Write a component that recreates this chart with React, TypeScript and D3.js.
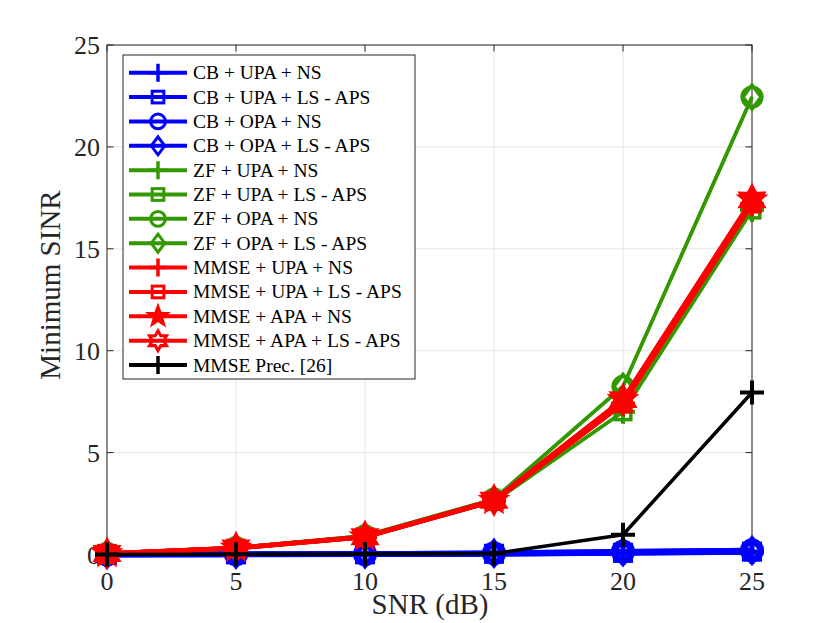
import React from "react";
import * as d3 from "d3";

const snr = [0, 5, 10, 15, 20, 25];
const xTicks = [0, 5, 10, 15, 20, 25];
const yTicks = [0, 5, 10, 15, 20, 25];

const cbUpaNs = [0.0, 0.005, 0.01, 0.03, 0.07, 0.12];
const cbUpaLs = [0.0, 0.006, 0.012, 0.035, 0.08, 0.14];
const cbOpaNs = [0.002, 0.01, 0.02, 0.06, 0.14, 0.2];
const cbOpaLs = [0.002, 0.01, 0.02, 0.06, 0.14, 0.2];
const zfUpaNs = [0.05, 0.3, 0.85, 2.6, 7.0, 16.9];
const zfUpaLs = [0.05, 0.3, 0.85, 2.6, 7.0, 16.9];
const zfOpaNs = [0.06, 0.34, 0.92, 2.72, 8.25, 22.45];
const zfOpaLs = [0.06, 0.34, 0.92, 2.72, 8.25, 22.45];
const mmseUpaNs = [0.05, 0.31, 0.86, 2.63, 7.4, 17.2];
const mmseUpaLs = [0.05, 0.31, 0.86, 2.63, 7.4, 17.2];
const mmseApaNs = [0.05, 0.32, 0.87, 2.66, 7.6, 17.4];
const mmseApaLs = [0.05, 0.32, 0.87, 2.66, 7.6, 17.4];
const mmsePrec = [0.0, 0.01, 0.02, 0.05, 0.97, 7.95];

const labels = [
  "CB + UPA + NS",
  "CB + UPA + LS - APS",
  "CB + OPA + NS",
  "CB + OPA + LS - APS",
  "ZF + UPA + NS",
  "ZF + UPA + LS - APS",
  "ZF + OPA + NS",
  "ZF + OPA + LS - APS",
  "MMSE + UPA + NS",
  "MMSE + UPA + LS - APS",
  "MMSE + APA + NS",
  "MMSE + APA + LS - APS",
  "MMSE Prec. [26]",
];

const BLUE = "#0000ff";
const GREEN = "#339900";
const RED = "#ff0000";
const BLACK = "#000000";

type Marker = "plus" | "square" | "circle" | "diamond" | "pentagram" | "hexagram";

const series: { values: number[]; color: string; marker: Marker; lw: number }[] = [
  { values: cbUpaNs, color: BLUE, marker: "plus", lw: 5.5 },
  { values: cbUpaLs, color: BLUE, marker: "square", lw: 5.5 },
  { values: cbOpaNs, color: BLUE, marker: "circle", lw: 5.5 },
  { values: cbOpaLs, color: BLUE, marker: "diamond", lw: 5.5 },
  { values: zfUpaNs, color: GREEN, marker: "plus", lw: 3.5 },
  { values: zfUpaLs, color: GREEN, marker: "square", lw: 3.5 },
  { values: zfOpaNs, color: GREEN, marker: "circle", lw: 3.5 },
  { values: zfOpaLs, color: GREEN, marker: "diamond", lw: 3.5 },
  { values: mmseUpaNs, color: RED, marker: "plus", lw: 4.5 },
  { values: mmseUpaLs, color: RED, marker: "square", lw: 4.5 },
  { values: mmseApaNs, color: RED, marker: "pentagram", lw: 4.5 },
  { values: mmseApaLs, color: RED, marker: "hexagram", lw: 4.5 },
  { values: mmsePrec, color: BLACK, marker: "plus", lw: 3.5 },
];

function starPath(n: number, ro: number, ri: number): string {
  const pts: string[] = [];
  for (let i = 0; i < 2 * n; i++) {
    const r = i % 2 === 0 ? ro : ri;
    const a = -Math.PI / 2 + (i * Math.PI) / n;
    pts.push(`${(r * Math.cos(a)).toFixed(2)},${(r * Math.sin(a)).toFixed(2)}`);
  }
  return "M" + pts.join("L") + "Z";
}

function MarkerShape({ m, x, y, color, s, sw }: { m: Marker; x: number; y: number; color: string; s: number; sw: number }) {
  const t = `translate(${x},${y})`;
  switch (m) {
    case "plus":
      return (
        <path transform={t} d={`M${-s},0H${s}M0,${-s}V${s}`} stroke={color} strokeWidth={sw + 0.5} fill="none" />
      );
    case "square":
      return (
        <rect transform={t} x={-s * 0.65} y={-s * 0.65} width={s * 1.3} height={s * 1.3} stroke={color} strokeWidth={sw} fill="none" />
      );
    case "circle":
      return <circle transform={t} r={s * 0.82} stroke={color} strokeWidth={sw} fill="none" />;
    case "diamond":
      return (
        <path transform={t} d={`M0,${-s}L${s * 0.75},0L0,${s}L${-s * 0.75},0Z`} stroke={color} strokeWidth={sw} fill="none" />
      );
    case "pentagram":
      return <path transform={t} d={starPath(5, s * 1.2, s * 0.5)} stroke={color} strokeWidth={2} fill={color} />;
    case "hexagram":
      return <path transform={t} d={starPath(6, s * 1.1, s * 0.62)} stroke={color} strokeWidth={sw} fill="none" />;
  }
}

export default function App() {
  const W = 830;
  const H = 623;
  const left = 107;
  const right = 752;
  const top = 45;
  const bottom = 554.5;
  const x = d3.scaleLinear().domain([0, 25]).range([left, right]);
  const y = d3.scaleLinear().domain([0, 25]).range([bottom, top]);
  const line = d3
    .line<number>()
    .x((_, i) => x(snr[i]))
    .y((d) => y(d));
  const axisColor = "#262626";
  const font = "Liberation Serif, Times New Roman, serif";

  const legX = 123;
  const legY = 55;
  const legW = 292;
  const legH = 324;
  const rowY0 = 72.7;
  const rowDy = 24.36;

  return (
    <svg width={W} height={H} style={{ position: "absolute", left: 0, top: 0, background: "#fff", fontFamily: font }}>
      <rect x={0} y={0} width={W} height={H} fill="#fff" />
      {xTicks.map((t) => (
        <line key={"gx" + t} x1={x(t)} x2={x(t)} y1={top} y2={bottom} stroke="#e5e5e5" strokeWidth={1} />
      ))}
      {yTicks.map((t) => (
        <line key={"gy" + t} x1={left} x2={right} y1={y(t)} y2={y(t)} stroke="#e5e5e5" strokeWidth={1} />
      ))}
      <rect x={left} y={top} width={right - left} height={bottom - top} fill="none" stroke={axisColor} strokeWidth={1} />
      {xTicks.map((t) => (
        <g key={"tx" + t}>
          <line x1={x(t)} x2={x(t)} y1={bottom} y2={bottom - 6.5} stroke={axisColor} />
          <line x1={x(t)} x2={x(t)} y1={top} y2={top + 6.5} stroke={axisColor} />
          <text x={x(t)} y={590} textAnchor="middle" fontSize={26} fill="#262626">
            {t}
          </text>
        </g>
      ))}
      {yTicks.map((t) => (
        <g key={"ty" + t}>
          <line x1={left} x2={left + 6.5} y1={y(t)} y2={y(t)} stroke={axisColor} />
          <line x1={right} x2={right - 6.5} y1={y(t)} y2={y(t)} stroke={axisColor} />
          <text x={100} y={y(t) + 9} textAnchor="end" fontSize={26} fill="#262626">
            {t}
          </text>
        </g>
      ))}
      <text x={430} y={614} textAnchor="middle" fontSize={29} fill="#262626">
        SNR (dB)
      </text>
      <text transform="translate(60,285) rotate(-90)" textAnchor="middle" fontSize={29} fill="#262626">
        Minimum SINR
      </text>
      {series.map((s, i) => (
        <g key={"s" + i}>
          <path d={line(s.values) || ""} stroke={s.color} strokeWidth={s.lw} fill="none" strokeLinejoin="round" />
          {s.values.map((v, j) => (
            <MarkerShape key={j} m={s.marker} x={x(snr[j])} y={y(v)} color={s.color} s={12} sw={s.color === BLUE ? 4.5 : 3.5} />
          ))}
        </g>
      ))}
      <rect x={legX} y={legY} width={legW} height={legH} fill="#fff" stroke={axisColor} strokeWidth={1} />
      {series.map((s, i) => {
        const cy = rowY0 + i * rowDy;
        return (
          <g key={"l" + i}>
            <line x1={129} x2={187} y1={cy} y2={cy} stroke={s.color} strokeWidth={4} />
            <MarkerShape m={s.marker} x={158} y={cy} color={s.color} s={9} sw={3} />
            <text x={193} y={cy + 6.5} fontSize={19.5} fill="#000">
              {labels[i]}
            </text>
          </g>
        );
      })}
    </svg>
  );
}
